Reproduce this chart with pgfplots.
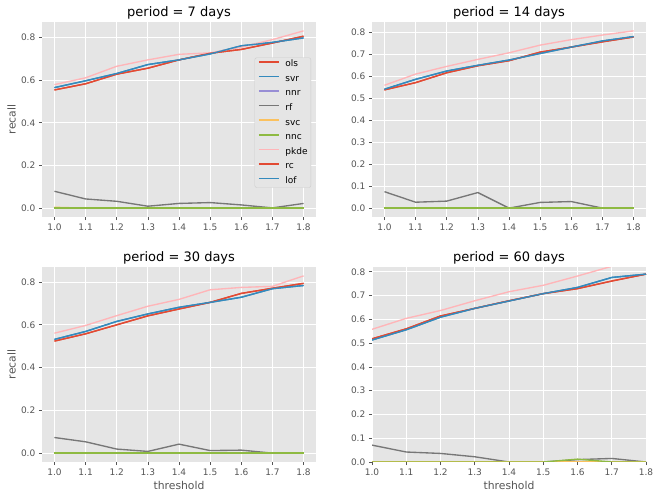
\documentclass[border=0pt]{standalone}
\usepackage{fontspec}
\setmainfont{DejaVu Sans}
\usepackage{pgfplots}
\usepackage{pgfplotstable}
\pgfplotsset{compat=1.18}

\definecolor{ggbg}{HTML}{E5E5E5}
\definecolor{tickc}{HTML}{555555}
\definecolor{legc}{HTML}{CCCCCC}
\definecolor{cA}{HTML}{E24A33}
\definecolor{cB}{HTML}{348ABD}
\definecolor{cC}{HTML}{988ED5}
\definecolor{cD}{HTML}{777777}
\definecolor{cE}{HTML}{FBC15E}
\definecolor{cF}{HTML}{8EBA42}
\definecolor{cG}{HTML}{FFB5B8}

% recall per threshold, one table per period
\pgfplotstableread{
t   ols   svr   nnr rf    svc   nnc pkde  rc    lof
1.0 0.554 0.565 0   0.079 0.004 0   0.579 0.554 0.565
1.1 0.583 0.597 0   0.043 0     0   0.611 0.583 0.597
1.2 0.628 0.631 0   0.032 0     0   0.665 0.628 0.631
1.3 0.656 0.673 0   0.009 0     0   0.695 0.656 0.673
1.4 0.695 0.695 0   0.022 0     0   0.721 0.695 0.695
1.5 0.726 0.723 0   0.026 0     0   0.728 0.726 0.723
1.6 0.744 0.761 0   0.015 0     0   0.755 0.744 0.761
1.7 0.774 0.777 0   0.001 0     0   0.790 0.774 0.777
1.8 0.806 0.798 0   0.022 0     0   0.831 0.806 0.798
}\pseven
\pgfplotstableread{
t   ols   svr   nnr rf    svc nnc pkde  rc    lof
1.0 0.539 0.542 0   0.075 0   0   0.560 0.539 0.542
1.1 0.572 0.587 0   0.027 0   0   0.611 0.572 0.587
1.2 0.617 0.625 0   0.032 0   0   0.646 0.617 0.625
1.3 0.649 0.651 0   0.071 0   0   0.678 0.649 0.651
1.4 0.672 0.675 0   0.000 0   0   0.708 0.672 0.675
1.5 0.711 0.705 0   0.026 0   0   0.743 0.711 0.705
1.6 0.734 0.734 0   0.030 0   0   0.768 0.734 0.734
1.7 0.758 0.762 0   0.000 0   0   0.789 0.758 0.762
1.8 0.780 0.782 0   0.000 0   0   0.808 0.780 0.782
}\pfourteen
\pgfplotstableread{
t   ols   svr   nnr rf    svc nnc pkde  rc    lof
1.0 0.524 0.532 0   0.073 0   0   0.561 0.524 0.532
1.1 0.558 0.569 0   0.053 0   0   0.597 0.558 0.569
1.2 0.600 0.616 0   0.019 0   0   0.643 0.600 0.616
1.3 0.642 0.651 0   0.008 0   0   0.687 0.642 0.651
1.4 0.674 0.682 0   0.042 0   0   0.719 0.674 0.682
1.5 0.705 0.705 0   0.012 0   0   0.764 0.705 0.705
1.6 0.747 0.729 0   0.014 0   0   0.775 0.747 0.729
1.7 0.771 0.769 0   0.000 0   0   0.780 0.771 0.769
1.8 0.794 0.784 0   0.000 0   0   0.829 0.794 0.784
}\pthirty
\pgfplotstableread{
t   ols   svr   nnr rf    svc nnc   pkde  rc    lof
1.0 0.518 0.513 0   0.071 0   0     0.558 0.518 0.513
1.1 0.560 0.556 0   0.042 0   0     0.604 0.560 0.556
1.2 0.614 0.609 0   0.036 0   0     0.637 0.614 0.609
1.3 0.646 0.646 0   0.022 0   0     0.678 0.646 0.646
1.4 0.678 0.677 0   0.000 0   0     0.716 0.678 0.677
1.5 0.708 0.708 0   0.000 0   0     0.743 0.708 0.708
1.6 0.729 0.734 0   0.010 0   0.012 0.782 0.729 0.734
1.7 0.761 0.776 0   0.015 0   0     0.823 0.761 0.776
1.8 0.790 0.790 0   0.000 0   0     0.840 0.790 0.790
}\psixty

\pgfplotsset{
  ggaxis/.style={
    scale only axis, width=274bp, height=195bp,
    axis background/.style={fill=ggbg},
    axis line style={draw=none},
    grid=major, major grid style={white, line width=0.8bp},
    tick align=outside, major tick length=3.15bp,
    tick style={draw=tickc, line width=0.72bp},
    xtick pos=bottom, ytick pos=left,
    tick label style={font=\fontsize{9bp}{10bp}\selectfont, text=tickc},
    /pgf/number format/assume math mode=true,
    xticklabel style={/pgf/number format/.cd, fixed, fixed zerofill, precision=1},
    yticklabel style={/pgf/number format/.cd, fixed, fixed zerofill, precision=1},
    xtick={1.0,1.1,1.2,1.3,1.4,1.5,1.6,1.7,1.8},
    xmin=0.96, xmax=1.84,
    every axis title/.style={at={(axis description cs:0.5,1)}, anchor=base,
      yshift=5.3bp, font=\fontsize{13bp}{15bp}\selectfont},
    label style={font=\fontsize{10.8bp}{13bp}\selectfont, text=tickc},
    ylabel style={at={(axis description cs:-0.096,0.5)}, anchor=base},
    xlabel style={at={(axis description cs:0.5,-0.142)}, anchor=base},
  },
  ln/.style={color=#1, line width=1.35bp, no markers, sharp plot},
}

\newcommand{\plotall}[1]{%
  \addplot[ln=cA] table[x=t,y=ols]{#1};
  \addplot[ln=cB] table[x=t,y=svr]{#1};
  \addplot[ln=cC] table[x=t,y=nnr]{#1};
  \addplot[ln=cD] table[x=t,y=rf]{#1};
  \addplot[ln=cE] table[x=t,y=svc]{#1};
  \addplot[ln=cF] table[x=t,y=nnc]{#1};
  \addplot[ln=cG] table[x=t,y=pkde]{#1};
  \addplot[ln=cA] table[x=t,y=rc]{#1};
  \addplot[ln=cB] table[x=t,y=lof]{#1};
}

\begin{document}
\begin{tikzpicture}
\path[use as bounding box] (0,0) rectangle (660bp,499bp);

\begin{axis}[ggaxis, at={(42bp,282bp)}, anchor=south west,
  title={period = 7 days}, ylabel={recall},
  ymin=-0.0416, ymax=0.8726, ytick={0,0.2,0.4,0.6,0.8},
  legend style={at={(0.982,0.484)}, anchor=east, fill=ggbg, draw=legc,
    rounded corners=2bp, font=\fontsize{9bp}{10bp}\selectfont,
    inner xsep=3.3bp, inner ysep=2bp,
    nodes={inner xsep=0pt, inner ysep=0pt, text height=7bp, text depth=2bp},
    row sep=5.6bp, column sep=5.7bp},
  legend cell align=left,
  legend image code/.code={\draw[#1, line width=1.6bp, sharp corners] (0bp,2.5bp) -- (20bp,2.5bp);},
]
\plotall{\pseven}
\legend{ols,svr,nnr,rf,svc,nnc,pkde,rc,lof}
\end{axis}

\begin{axis}[ggaxis, at={(372bp,282bp)}, anchor=south west,
  title={period = 14 days},
  ymin=-0.0404, ymax=0.8484, ytick={0,0.1,0.2,0.3,0.4,0.5,0.6,0.7,0.8},
]
\plotall{\pfourteen}
\end{axis}

\begin{axis}[ggaxis, at={(42bp,37bp)}, anchor=south west,
  title={period = 30 days}, ylabel={recall}, xlabel={threshold},
  ymin=-0.0415, ymax=0.8705, ytick={0,0.2,0.4,0.6,0.8},
]
\plotall{\pthirty}
\end{axis}

\begin{axis}[ggaxis, at={(372bp,37bp)}, anchor=south west,
  title={period = 60 days}, xlabel={threshold},
  xmin=1.0, xmax=1.8,
  ymin=0, ymax=0.82, ytick={0,0.1,0.2,0.3,0.4,0.5,0.6,0.7,0.8},
]
\plotall{\psixty}
\end{axis}
\end{tikzpicture}
\end{document}
